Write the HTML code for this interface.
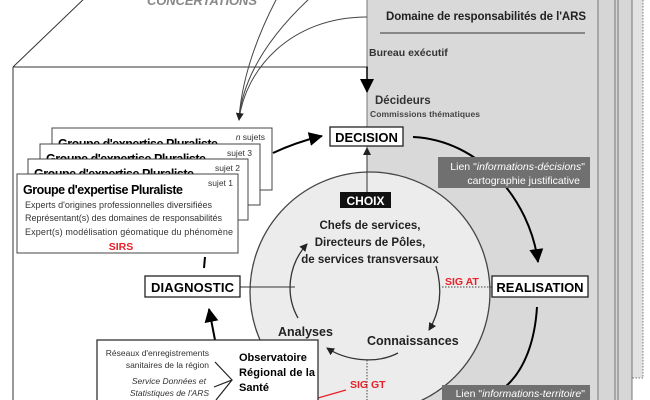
<!DOCTYPE html>
<html><head><meta charset="utf-8"><style>
html,body{margin:0;padding:0;background:#fff;}
svg{display:block;font-family:"Liberation Sans",sans-serif;}
</style></head><body>
<svg width="650" height="400" viewBox="0 0 650 400" xmlns="http://www.w3.org/2000/svg">
<defs>
<marker id="ahs" markerWidth="8" markerHeight="8" refX="7" refY="4" orient="auto" markerUnits="userSpaceOnUse"><path d="M0,0 L8,4 L0,8 Z" fill="#222"/></marker>
<marker id="ahb" markerWidth="14" markerHeight="14" refX="13" refY="7" orient="auto" markerUnits="userSpaceOnUse"><path d="M0,0 L14,7 L0,14 Z" fill="#000"/></marker>
</defs>
<rect x="632" y="0" width="11" height="378" fill="#e2e2e2"/>
<path d="M643,0 V378 H632" fill="none" stroke="#777" stroke-dasharray="1.5,1.5"/>
<rect x="598" y="0" width="34" height="400" fill="#d6d6d6"/>
<line x1="615" y1="0" x2="615" y2="400" stroke="#777"/>
<line x1="618" y1="0" x2="618" y2="400" stroke="#777"/>
<line x1="632" y1="0" x2="632" y2="400" stroke="#777"/>
<rect x="367" y="-2" width="231" height="404" fill="#d9d9d9" stroke="#777"/>
<text x="486" y="20" font-size="11.5" font-weight="bold" text-anchor="middle" fill="#222" textLength="200">Domaine de responsabilités de l'ARS</text>
<line x1="380" y1="33" x2="585" y2="33" stroke="#888" stroke-width="2"/>
<text x="369" y="56" font-size="10.5" font-weight="bold" fill="#333">Bureau exécutif</text>
<text x="375" y="104" font-size="11.5" font-weight="bold" fill="#333">Décideurs</text>
<text x="370" y="117" font-size="8.5" font-weight="bold" fill="#444" textLength="110">Commissions  thématiques</text>
<line x1="13" y1="67" x2="88" y2="-5" stroke="#333"/>
<line x1="13" y1="67" x2="13" y2="400" stroke="#333"/>
<line x1="13" y1="67" x2="368" y2="67" stroke="#333"/>
<line x1="367" y1="67" x2="367" y2="92" stroke="#000" stroke-width="1.5" marker-end="url(#ahb)"/>
<text x="147" y="5" font-size="13" font-style="italic" font-weight="bold" fill="#888" textLength="110">CONCERTATIONS</text>
<path d="M277,-2 C255,40 242,80 239,118" fill="none" stroke="#444"/>
<path d="M310,-2 C265,40 243,80 239,118" fill="none" stroke="#444"/>
<path d="M367,17 C290,17 245,70 239,120" fill="none" stroke="#444" marker-end="url(#ahs)"/>
<circle cx="370" cy="292" r="120" fill="#ececec" stroke="#444" stroke-width="1.3"/>
<line x1="367" y1="192" x2="367" y2="148" stroke="#333" marker-end="url(#ahs)"/>
<rect x="330" y="127" width="73" height="19" fill="#fff" stroke="#222" stroke-width="1.3"/>
<text x="366.5" y="142" font-size="13" font-weight="bold" text-anchor="middle">DECISION</text>
<path d="M413,137 C480,140 530,200 538,262" fill="none" stroke="#000" stroke-width="2" marker-end="url(#ahb)"/>
<rect x="438" y="157" width="152" height="31" fill="#707070"/>
<text x="585" y="170" font-size="10.5" text-anchor="end" fill="#fff">Lien "<tspan font-style="italic">informations-décisions</tspan>"</text>
<text x="580" y="184" font-size="10.5" text-anchor="end" fill="#fff">cartographie justificative</text>
<rect x="492" y="276" width="96" height="21" fill="#fff" stroke="#222" stroke-width="1.3"/>
<text x="540" y="292" font-size="13" font-weight="bold" text-anchor="middle">REALISATION</text>
<path d="M537,307 C535,340 525,370 505,387" fill="none" stroke="#000" stroke-width="2"/>
<rect x="442" y="385" width="148" height="20" fill="#707070"/>
<text x="585" y="397" font-size="10.5" text-anchor="end" fill="#fff">Lien "<tspan font-style="italic">informations-territoire</tspan>"</text>
<rect x="340" y="192" width="51" height="16" fill="#111"/>
<text x="365.5" y="205" font-size="12" font-weight="bold" text-anchor="middle" fill="#fff">CHOIX</text>
<text x="370" y="229" font-size="11.5" font-weight="bold" text-anchor="middle" fill="#222">Chefs de services,</text>
<text x="370" y="246" font-size="11.5" font-weight="bold" text-anchor="middle" fill="#222">Directeurs de Pôles,</text>
<text x="370" y="263" font-size="11.5" font-weight="bold" text-anchor="middle" fill="#222">de services transversaux</text>
<path d="M298,318 C285,295 288,265 307,244" fill="none" stroke="#333" stroke-width="1.3" marker-end="url(#ahs)"/>
<path d="M436,266 C443,290 440,312 429,330" fill="none" stroke="#333" stroke-width="1.3" marker-end="url(#ahs)"/>
<path d="M398,353 C375,365 345,360 327,348" fill="none" stroke="#333" stroke-width="1.3" marker-end="url(#ahs)"/>
<text x="278" y="336" font-size="12.5" font-weight="bold" fill="#222">Analyses</text>
<text x="367" y="345" font-size="12.5" font-weight="bold" fill="#222">Connaissances</text>
<text x="445" y="285" font-size="10.5" font-weight="bold" fill="#e8202a">SIG AT</text>
<line x1="442" y1="287" x2="492" y2="287" stroke="#444" stroke-dasharray="1.5,1.5"/>
<text x="350" y="388" font-size="10.5" font-weight="bold" fill="#e8202a">SIG GT</text>
<line x1="367" y1="360" x2="367" y2="400" stroke="#444" stroke-dasharray="1.5,1.5"/>
<line x1="318" y1="398" x2="346" y2="390" stroke="#e8202a" stroke-width="1.3"/>
<line x1="240" y1="287" x2="295" y2="287" stroke="#333"/>
<rect x="145" y="276" width="95" height="21" fill="#fff" stroke="#222" stroke-width="1.3"/>
<text x="192.5" y="292" font-size="13" font-weight="bold" text-anchor="middle" textLength="83">DIAGNOSTIC</text>
<line x1="205" y1="257" x2="204" y2="268" stroke="#000" stroke-width="2"/>
<line x1="215" y1="340" x2="209" y2="309" stroke="#000" stroke-width="2" marker-end="url(#ahb)"/>
<rect x="97" y="340" width="221" height="70" fill="#fff" stroke="#333" stroke-width="1.3"/>
<text x="209" y="356" font-size="8.5" text-anchor="end" fill="#333">Réseaux d'enregistrements</text>
<text x="209" y="368" font-size="8.5" text-anchor="end" fill="#333">sanitaires de la région</text>
<text x="206" y="384" font-size="8.5" text-anchor="end" fill="#333" font-style="italic">Service Données et</text>
<text x="209" y="396" font-size="8.5" text-anchor="end" fill="#333" font-style="italic">Statistiques de l'ARS</text>
<path d="M215,362 L232,380 L214,387 M232,380 L216,400" fill="none" stroke="#222" stroke-width="1.2"/>
<text x="239" y="361" font-size="11" font-weight="bold">Observatoire</text>
<text x="239" y="376" font-size="11" font-weight="bold" textLength="76">Régional de la</text>
<text x="239" y="391" font-size="11" font-weight="bold">Santé</text>
<path d="M273,153 C290,145 305,140 322,136" fill="none" stroke="#000" stroke-width="2" marker-end="url(#ahb)"/>
<rect x="52" y="128" width="220" height="62" fill="#fff" stroke="#444"/>
<text x="265" y="140" font-size="8.5" text-anchor="end" fill="#333"><tspan font-style="italic">n</tspan> sujets</text>
<text x="58" y="148" font-size="12.5" font-weight="bold" textLength="160">Groupe d'expertise Pluraliste</text>
<rect x="40" y="144" width="220" height="61" fill="#fff" stroke="#444"/>
<text x="252" y="156" font-size="8.5" text-anchor="end" fill="#333">sujet 3</text>
<text x="46" y="163" font-size="12.5" font-weight="bold" textLength="160">Groupe d'expertise Pluraliste</text>
<rect x="28" y="159" width="220" height="61" fill="#fff" stroke="#444"/>
<text x="240" y="171" font-size="8.5" text-anchor="end" fill="#333">sujet 2</text>
<text x="34" y="178" font-size="12.5" font-weight="bold" textLength="160">Groupe d'expertise Pluraliste</text>
<rect x="17" y="174" width="221" height="79" fill="#fff" stroke="#444"/>
<text x="233" y="186" font-size="8.5" text-anchor="end" fill="#333">sujet 1</text>
<text x="23" y="194" font-size="12.5" font-weight="bold" textLength="160">Groupe d'expertise Pluraliste</text>
<text x="25" y="208" font-size="9" fill="#333" textLength="187">Experts d'origines professionnelles diversifiées</text>
<text x="25" y="221" font-size="9" fill="#333" textLength="197">Représentant(s) des domaines de responsabilités</text>
<text x="25" y="235" font-size="9" fill="#333" textLength="208">Expert(s) modélisation géomatique du phénomène</text>
<text x="121" y="250" font-size="10.5" font-weight="bold" text-anchor="middle" fill="#e8202a">SIRS</text>
</svg>
</body></html>
